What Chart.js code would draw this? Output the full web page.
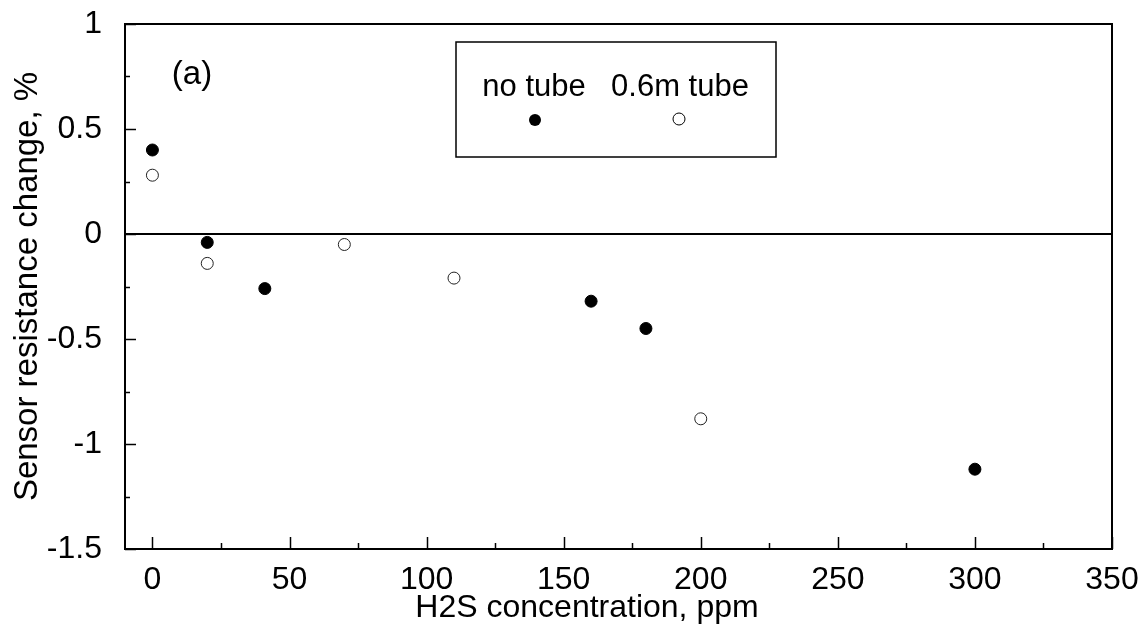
<!DOCTYPE html>
<html>
<head>
<meta charset="utf-8">
<script src="https://cdn.jsdelivr.net/npm/chart.js@4.4.1/dist/chart.umd.min.js"></script>
<style>
  html, body { margin: 0; padding: 0; background: #fff; }
  #wrap { width: 1143px; height: 637px; }
</style>
</head>
<body>
<div id="wrap"><canvas id="grafico"></canvas></div>
<script>
// datos
var noTubeX = [0, 20, 41, 160, 180, 300];
var noTubeY = [0.40, -0.04, -0.26, -0.32, -0.45, -1.12];
var tubeX = [0, 20, 70, 110, 200];
var tubeY = [0.28, -0.14, -0.05, -0.21, -0.88];

var xTicks = [0, 50, 100, 150, 200, 250, 300, 350];
var xMinor = [25, 75, 125, 175, 225, 275, 325];
var yTicks = [-1.5, -1, -0.5, 0, 0.5, 1];
var yMinor = [-1.25, -0.75, -0.25, 0.25, 0.75];

var serieLabels = ["no tube", "0.6m tube"];
var xTitle = "H2S concentration, ppm";
var yTitle = "Sensor resistance change, %";
var panelTag = "(a)";

function toPoints(xs, ys) {
    var arr = [];
    for (var i = 0; i < xs.length; i++) {
        arr.push({ x: xs[i], y: ys[i] });
    }
    return arr;
}

var FONT = "'Liberation Sans', Arial, sans-serif";

// marco, ticks hacia adentro, linea del cero, leyenda y texto
var extras = {
    id: 'extras',
    beforeDatasetsDraw: function(chart) {
        var ctx = chart.ctx;
        var a = chart.chartArea;
        var xs = chart.scales.x, ys = chart.scales.y;
        ctx.save();
        ctx.strokeStyle = '#000';

        // linea en y = 0
        ctx.lineWidth = 2;
        var y0 = Math.round(ys.getPixelForValue(0));
        ctx.beginPath();
        ctx.moveTo(a.left, y0);
        ctx.lineTo(a.right, y0);
        ctx.stroke();

        // ticks
        ctx.lineWidth = 1.5;
        xTicks.forEach(function(v) {
            var px = Math.round(xs.getPixelForValue(v)) + 0.5;
            ctx.beginPath();
            ctx.moveTo(px, a.bottom);
            ctx.lineTo(px, a.bottom - 12);
            ctx.stroke();
        });
        xMinor.forEach(function(v) {
            var px = Math.round(xs.getPixelForValue(v)) + 0.5;
            ctx.beginPath();
            ctx.moveTo(px, a.bottom);
            ctx.lineTo(px, a.bottom - 6);
            ctx.stroke();
        });
        yTicks.forEach(function(v) {
            var py = Math.round(ys.getPixelForValue(v)) + 0.5;
            ctx.beginPath();
            ctx.moveTo(a.left, py);
            ctx.lineTo(a.left + 11, py);
            ctx.stroke();
        });
        yMinor.forEach(function(v) {
            var py = Math.round(ys.getPixelForValue(v)) + 0.5;
            ctx.beginPath();
            ctx.moveTo(a.left, py);
            ctx.lineTo(a.left + 5, py);
            ctx.stroke();
        });

        // marco
        ctx.lineWidth = 2;
        ctx.strokeRect(a.left, a.top, a.right - a.left, a.bottom - a.top);

        // leyenda
        ctx.lineWidth = 1.5;
        ctx.strokeRect(456, 42, 320, 115);
        ctx.fillStyle = '#000';
        ctx.font = '31px ' + FONT;
        ctx.textAlign = 'center';
        ctx.textBaseline = 'alphabetic';
        ctx.fillText(serieLabels[0], 534, 96);
        ctx.fillText(serieLabels[1], 680, 96);
        ctx.beginPath();
        ctx.arc(535, 120, 6, 0, Math.PI * 2);
        ctx.fill();
        ctx.beginPath();
        ctx.lineWidth = 1;
        ctx.arc(679, 119, 6, 0, Math.PI * 2);
        ctx.stroke();

        // (a)
        ctx.font = '33px ' + FONT;
        ctx.fillText(panelTag, 192, 84);

        // titulo eje x
        ctx.font = '32px ' + FONT;
        ctx.fillText(xTitle, 587, 617);
        ctx.restore();
    }
};

var canvas = document.getElementById('grafico').getContext('2d');
window.scatter = new Chart(canvas, {
    type: 'scatter',
    data: {
        datasets: [{
                label: serieLabels[0],
                data: toPoints(noTubeX, noTubeY),
                pointRadius: 6,
                pointBackgroundColor: '#000',
                pointBorderColor: '#000',
                pointBorderWidth: 1
            },
            {
                label: serieLabels[1],
                data: toPoints(tubeX, tubeY),
                pointRadius: 6,
                pointBackgroundColor: '#fff',
                pointBorderColor: '#222',
                pointBorderWidth: 1
            }
        ]
    },
    options: {
        responsive: true,
        maintainAspectRatio: false,
        animation: false,
        layout: { padding: { left: 0, right: 31, top: 24, bottom: 0 } },
        plugins: {
            legend: { display: false },
            tooltip: { enabled: false }
        },
        scales: {
            x: {
                type: 'linear',
                min: -10,
                max: 350,
                grid: { display: false },
                border: { display: false },
                afterBuildTicks: function(scale) {
                    scale.ticks = xTicks.map(function(v) { return { value: v }; });
                },
                afterFit: function(scale) {
                    scale.height = 88;
                    scale.paddingLeft = 0;
                    scale.paddingRight = 0;
                },
                ticks: {
                    padding: 4,
                    color: '#000',
                    font: { family: FONT, size: 32 },
                    maxRotation: 0,
                    autoSkip: false
                }
            },
            y: {
                type: 'linear',
                min: -1.5,
                max: 1,
                grid: { display: false },
                border: { display: false },
                afterBuildTicks: function(scale) {
                    scale.ticks = yTicks.map(function(v) { return { value: v }; });
                },
                afterFit: function(scale) {
                    scale.width = 125;
                    scale.paddingTop = 0;
                    scale.paddingBottom = 0;
                },
                title: {
                    display: true,
                    text: yTitle,
                    color: '#000',
                    font: { family: FONT, size: 33 },
                    padding: { top: 8, bottom: 0 }
                },
                ticks: {
                    padding: 15,
                    color: '#000',
                    font: { family: FONT, size: 32 },
                    autoSkip: false,
                    callback: function(v) { return String(v); }
                }
            }
        }
    },
    plugins: [extras]
});
</script>
</body>
</html>
